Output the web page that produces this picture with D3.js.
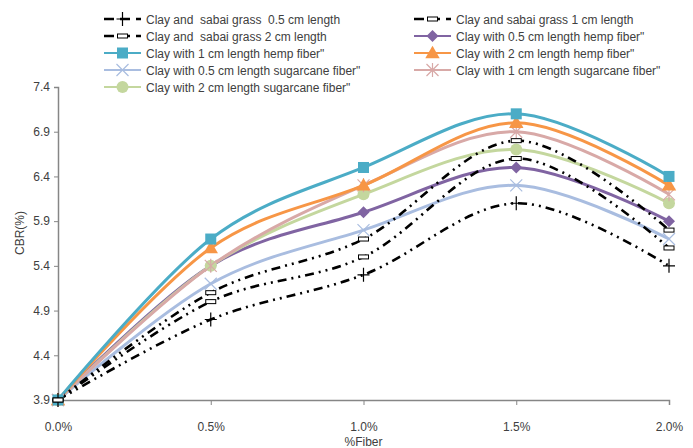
<!DOCTYPE html>
<meta charset="utf-8">
<style>
body{ margin:0; background:#fff; }
svg text{ font-family: "Liberation Sans Narrow", "Arial Narrow", "Liberation Sans", Arial, sans-serif; fill:#404040; white-space: pre; }
</style>
<body>
<div class="wrap"></div>
<script src="https://d3js.org/d3.v7.min.js"></script>
<script>
// x categories (% fiber) and tick labels
const fiber = [0, 0.5, 1.0, 1.5, 2.0];
const xTickLabels = ["0.0%", "0.5%", "1.0%", "1.5%", "2.0%"];
const yTicks = [3.9, 4.4, 4.9, 5.4, 5.9, 6.4, 6.9, 7.4];

// CBR values
const sabai05 = [3.9, 4.8, 5.3, 6.1, 5.4];
const sabai1  = [3.9, 5.0, 5.5, 6.6, 5.6];
const sabai2  = [3.9, 5.1, 5.7, 6.8, 5.8];
const hemp05  = [3.9, 5.4, 6.0, 6.5, 5.9];
const hemp1   = [3.9, 5.7, 6.5, 7.1, 6.4];
const hemp2   = [3.9, 5.6, 6.3, 7.0, 6.3];
const cane05  = [3.9, 5.2, 5.8, 6.3, 5.7];
const cane1   = [3.9, 5.4, 6.3, 6.9, 6.2];
const cane2   = [3.9, 5.4, 6.2, 6.7, 6.1];

const seriesNames = [
  "Clay and  sabai grass  0.5 cm length",
  "Clay and sabai grass 1 cm length",
  "Clay and  sabai grass 2 cm length",
  "Clay with 0.5 cm length hemp fiber\"",
  "Clay with 1 cm length hemp fiber\"",
  "Clay with 2 cm length hemp fiber\"",
  "Clay with 0.5 cm length sugarcane fiber\"",
  "Clay with 1 cm length sugarcane fiber\"",
  "Clay with 2 cm length sugarcane fiber\""
];

const series = [
  {name: seriesNames[0], values: sabai05, color: "#000", marker: "plus",  dash: "9,5,2,5,2,5", w: 2.6},
  {name: seriesNames[1], values: sabai1,  color: "#000", marker: "dash",  dash: "9,5,2,5,2,5", w: 2.6},
  {name: seriesNames[2], values: sabai2,  color: "#000", marker: "rect",  dash: "9,5,2,5,2,5", w: 2.6},
  {name: seriesNames[3], values: hemp05,  color: "#8064A2", marker: "diamond", w: 3},
  {name: seriesNames[4], values: hemp1,   color: "#4BACC6", marker: "square",  w: 3},
  {name: seriesNames[5], values: hemp2,   color: "#F79646", marker: "triangle", w: 3},
  {name: seriesNames[6], values: cane05,  color: "#A9BDE0", marker: "x",  w: 3},
  {name: seriesNames[7], values: cane1,   color: "#D8A9A7", marker: "star", w: 3},
  {name: seriesNames[8], values: cane2,   color: "#C4D79E", marker: "circle", w: 3}
];

// draw order: black first, then coloured (coloured on top like reference)
const drawOrder = [6, 3, 8, 7, 5, 4, 0, 1, 2];

const width = 693, height = 448;
const svg = d3.select(".wrap").append("svg")
  .attr("width", width).attr("height", height);

const x = d3.scaleLinear().domain([0, 2.0]).range([58, 669]);
const y = d3.scaleLinear().domain([3.9, 7.4]).range([400, 87]);

// axes
const xAxis = d3.axisBottom(x).tickValues(fiber).tickSize(5)
  .tickFormat((d, i) => xTickLabels[i]);
const yAxis = d3.axisLeft(y).tickValues(yTicks).tickSize(4)
  .tickFormat(d3.format(".1f"));

const gx = svg.append("g").attr("transform", "translate(0,400)").call(xAxis);
const gy = svg.append("g").attr("transform", "translate(58,0)").call(yAxis);
[gx, gy].forEach(g => {
  g.select(".domain").attr("stroke", "#868686").attr("stroke-width", 1.5);
  g.selectAll(".tick line").attr("stroke", "#868686");
  g.selectAll(".tick text").style("font-size", "12px").attr("fill", "#404040");
});
gx.selectAll(".tick text").attr("dy", "1.9em");
gy.selectAll(".tick text").attr("x", -8);

svg.append("text").attr("x", x(1.0)).attr("y", 446)
  .attr("text-anchor", "middle").style("font-size", "12px").text("%Fiber");
svg.append("text").attr("transform", "translate(24,233) rotate(-90)")
  .attr("text-anchor", "middle").style("font-size", "12px").text("CBR(%)");

const line = d3.line()
  .x((d, i) => x(fiber[i]))
  .y(d => y(d))
  .curve(d3.curveCatmullRom.alpha(0));

function drawMarker(g, type, color, cx, cy) {
  if (type === "plus") {
    g.append("path").attr("d", `M${cx-6},${cy}H${cx+6}M${cx},${cy-7}V${cy+7}`)
      .attr("stroke", "#000").attr("stroke-width", 1.2);
  } else if (type === "dash") {
    g.append("rect").attr("x", cx-5).attr("y", cy-2).attr("width", 10).attr("height", 4)
      .attr("fill", "#fff").attr("stroke", "#000").attr("stroke-width", 1);
  } else if (type === "rect") {
    g.append("rect").attr("x", cx-5).attr("y", cy-2).attr("width", 10).attr("height", 4)
      .attr("fill", "#fff").attr("stroke", "#000").attr("stroke-width", 1);
  } else if (type === "square") {
    g.append("rect").attr("x", cx-5.5).attr("y", cy-5.5).attr("width", 11).attr("height", 11)
      .attr("fill", color);
  } else if (type === "triangle") {
    g.append("path").attr("d", d3.symbol(d3.symbolTriangle, 90)()).attr("transform", `translate(${cx},${cy+1})`)
      .attr("fill", color);
  } else if (type === "diamond") {
    g.append("path").attr("d", `M${cx},${cy-6}L${cx+6},${cy}L${cx},${cy+6}L${cx-6},${cy}Z`)
      .attr("fill", color);
  } else if (type === "circle") {
    g.append("circle").attr("cx", cx).attr("cy", cy).attr("r", 6).attr("fill", color);
  } else if (type === "x") {
    g.append("path").attr("d", `M${cx-6},${cy-6}L${cx+6},${cy+6}M${cx+6},${cy-6}L${cx-6},${cy+6}`)
      .attr("stroke", color).attr("stroke-width", 1.2);
  } else if (type === "star") {
    g.append("path").attr("d", `M${cx-6},${cy-6}L${cx+6},${cy+6}M${cx+6},${cy-6}L${cx-6},${cy+6}M${cx},${cy-7}V${cy+7}`)
      .attr("stroke", color).attr("stroke-width", 1.2);
  }
}

const plot = svg.append("g");
drawOrder.forEach(k => {
  const s = series[k];
  plot.append("path").datum(s.values)
    .attr("d", line).attr("fill", "none")
    .attr("stroke", s.color).attr("stroke-width", s.w)
    .attr("stroke-dasharray", s.dash || null);
});
drawOrder.forEach(k => {
  const s = series[k];
  const g = plot.append("g");
  s.values.forEach((v, i) => drawMarker(g, s.marker, s.color, x(fiber[i]), y(v)));
});

// legend
const legend = svg.append("g");
series.forEach((s, i) => {
  const col = i % 2, row = Math.floor(i / 2);
  const lx = col === 0 ? 104 : 414;
  const ly = 19 + row * 17;
  const g = legend.append("g");
  g.append("line").attr("x1", lx).attr("x2", lx + 37).attr("y1", ly).attr("y2", ly)
    .attr("stroke", s.color).attr("stroke-width", s.dash ? 2.6 : 2.2)
    .attr("stroke-dasharray", s.dash ? "10,6" : null);
  drawMarker(g, s.marker, s.color, lx + 18.5, ly);
  g.append("text").attr("x", lx + 42).attr("y", ly + 4.5)
    .style("font-size", "12px").text(s.name);
});
</script>
</body>
</html>
